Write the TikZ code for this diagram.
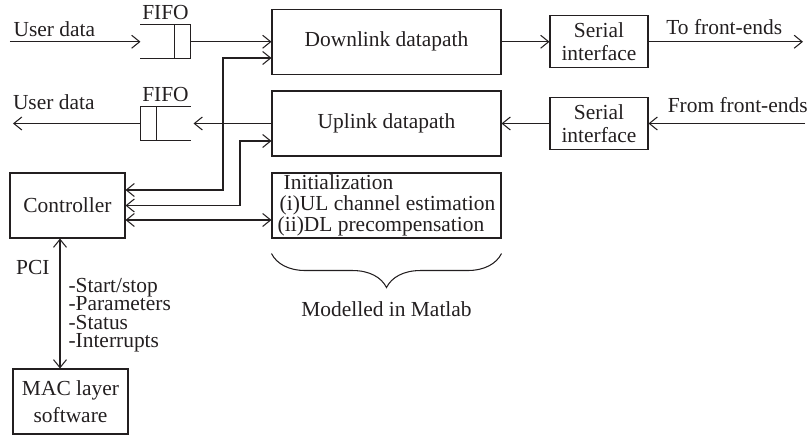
\documentclass[tikz,border=0pt]{standalone}
\usepackage{fontspec}
\setmainfont{Liberation Serif}
\usetikzlibrary{arrows.meta,positioning,calc,decorations.pathreplacing}
\definecolor{ink}{RGB}{35,31,32}
\newcommand\sigfont{\fontsize{12.2pt}{10.4pt}\selectfont\lineskiplimit=-5pt\relax}

\begin{document}
\begin{tikzpicture}[
  color=ink, line width=0.6pt,
  font=\fontsize{12.2pt}{14pt}\selectfont,
  >={Straight Barb[length=1.6mm,width=2.6mm]},
  block/.style={draw, minimum width=4.58cm, minimum height=1.30cm, inner sep=0.1cm},
  box/.style={draw, minimum width=2.30cm, minimum height=1.30cm, inner sep=0pt, align=center},
  serial/.style={draw, minimum width=1.96cm, minimum height=1.04cm, inner sep=0pt, align=center,
    font=\fontsize{12.2pt}{13pt}\selectfont},
  fifo/.style={minimum width=0.98cm, minimum height=0.65cm, inner sep=0pt},
  tag/.style={inner sep=0pt}
]
\useasboundingbox (0,0) rectangle (16.18,-8.70);

\node[block] (dl) at (7.73,-0.835) {Downlink datapath};
\node[block] (ul) at (7.73,-2.47) {Uplink datapath};
\node[block, inner sep=0pt, align=left, font=\fontsize{12.2pt}{12pt}\selectfont] (init) at (7.73,-4.11)
  {\hspace*{0.12cm}Initialization\\\hspace*{0.04cm}(i)UL channel estimation\\(ii)DL precompensation};
\node[box] (ctrl) at (1.35,-4.11) {Controller};
\node[box, font=\fontsize{12.2pt}{15pt}\selectfont] (mac) at (1.41,-8.03) {MAC layer\\software};
\node[serial] (ser1) at (11.98,-0.835) {Serial\\interface};
\node[serial] (ser2) at (11.98,-2.47) {Serial\\interface};

\node[fifo, label={[tag, yshift=0.1cm]above:FIFO}] (fifoin) at (3.31,-0.835) {};
\node[fifo, label={[tag, yshift=0.08cm]above:FIFO}] (fifoout) at (3.31,-2.47) {};
\draw (fifoin.north west) -- (fifoin.north east) -- (fifoin.south east) -- (fifoin.south west);
\draw ([xshift=-0.32cm]fifoin.north east) -- ([xshift=-0.32cm]fifoin.south east);
\draw (fifoout.north east) -- (fifoout.north west) -- (fifoout.south west) -- (fifoout.south east);
\draw ([xshift=0.32cm]fifoout.north west) -- ([xshift=0.32cm]fifoout.south west);

\coordinate (udin) at (0.20,-0.835);
\coordinate (udout) at (0.26,-2.47);
\coordinate (fetx) at (16.06,-0.835);
\coordinate (ferx) at (16.10,-2.47);
\coordinate (pci) at (1.20,0);

\draw[->] (udin) -- node[tag, above=0.09cm, pos=0.34] {User data} (fifoin.west);
\draw[->] (fifoin.east) -- (dl.west);
\draw[->] (dl.east) -- (ser1.west);
\draw[->] (ser1.east) -- node[tag, above=0.14cm, pos=0.49] {To front-ends} (fetx);
\draw[->] (ferx) -- node[tag, above=0.2cm, pos=0.43] {From front-ends} (ser2.east);
\draw[->] (ser2.west) -- (ul.east);
\draw[->] (ul.west) -- ([xshift=0.06cm]fifoout.east);
\draw[->] (fifoout.west) -- node[tag, above=0.26cm, pos=0.68] {User data} (udout);

\draw[<->] ([yshift=0.31cm]ctrl.east) -| (4.46,-1.16) -- ([yshift=-0.325cm]dl.west);
\draw[<->] (ctrl.east) -| (4.80,-2.82) -- ([yshift=-0.35cm]ul.west);
\draw[<->] ([yshift=-0.29cm]ctrl.east) -- ([yshift=-0.29cm]init.west);

\draw[<->] (ctrl.south -| pci) --
  node[tag, left=0.2cm, pos=0.22] {PCI}
  node[tag, right=0.16cm, pos=0.59, align=left, font=\sigfont]
    {-Start/stop\\-Parameters\\-Status\\-Interrupts}
  (mac.north -| pci);

\draw[decorate, decoration={brace, amplitude=0.68cm}]
  ([yshift=-0.30cm]init.south east) -- ([yshift=-0.30cm]init.south west)
  node[tag, midway, below=0.96cm] (matlab) {Modelled in Matlab};
\end{tikzpicture}
\end{document}
